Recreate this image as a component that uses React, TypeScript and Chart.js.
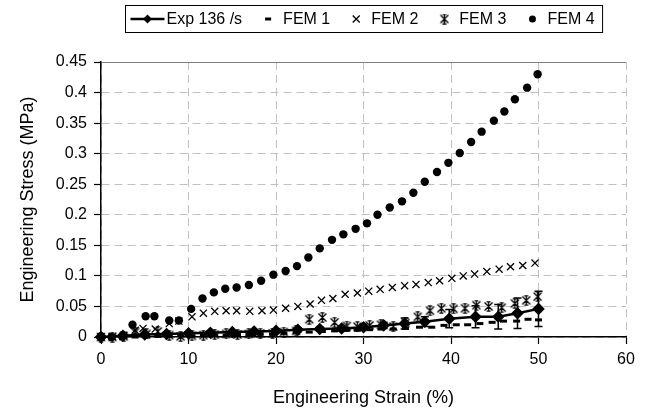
import { useEffect, useRef } from "react";
import { Chart, registerables } from "chart.js";

Chart.register(...registerables);

const xTicks = [0, 10, 20, 30, 40, 50, 60];
const yTicks = [0, 0.05, 0.1, 0.15, 0.2, 0.25, 0.3, 0.35, 0.4, 0.45];

const seriesNames = ["Exp 136 /s", "FEM 1", "FEM 2", "FEM 3", "FEM 4"];

const expX = [0, 2.5, 5, 7.5, 10, 12.5, 15, 17.5, 20, 22.5, 25, 27.5, 30, 32.3, 34.7, 37.0, 39.8, 42.8, 45.4, 47.6, 50];
const expY = [0, 0.002, 0.004, 0.005, 0.006, 0.007, 0.008, 0.009, 0.010, 0.012, 0.013, 0.014, 0.016, 0.019, 0.022, 0.025, 0.030, 0.033, 0.033, 0.039, 0.046];
const expErr = [0, 0.001, 0.001, 0.001, 0.002, 0.002, 0.002, 0.003, 0.003, 0.003, 0.003, 0.004, 0.005, 0.005, 0.009, 0.008, 0.015, 0.018, 0.020, 0.025, 0.029];

const fem1X = [0, 1.3, 2.6, 3.9, 5.2, 6.5, 7.8, 9.1, 10.4, 11.7, 13.0, 14.3, 15.6, 16.9, 18.2, 19.6, 20.9, 22.3, 23.8, 25.3, 26.7, 28.1, 29.3, 30.7, 32.0, 33.4, 34.8, 36.4, 37.8, 39.2, 40.6, 41.9, 43.3, 44.7, 46.0, 47.5, 48.8, 50.0];
const fem1Y = [0, 0, 0, 0, 0, 0.001, 0.001, 0.002, 0.002, 0.003, 0.003, 0.003, 0.004, 0.004, 0.005, 0.005, 0.006, 0.007, 0.008, 0.009, 0.010, 0.011, 0.011, 0.012, 0.013, 0.013, 0.014, 0.016, 0.016, 0.019, 0.020, 0.020, 0.022, 0.024, 0.026, 0.026, 0.029, 0.028];

const fem2X = [0, 1.3, 2.6, 3.9, 4.8, 6.2, 7.8, 8.9, 10.4, 11.7, 13.0, 14.3, 15.5, 17.0, 18.4, 19.7, 21.1, 22.5, 23.9, 25.2, 26.5, 27.9, 29.3, 30.6, 31.9, 33.3, 34.7, 36.0, 37.4, 38.7, 40.1, 41.4, 42.7, 44.1, 45.5, 46.8, 48.2, 49.6];
const fem2Y = [0, 0.001, 0.003, 0.011, 0.014, 0.013, 0.022, 0.026, 0.033, 0.039, 0.042, 0.043, 0.043, 0.042, 0.043, 0.044, 0.047, 0.050, 0.054, 0.060, 0.063, 0.070, 0.072, 0.075, 0.078, 0.081, 0.084, 0.086, 0.089, 0.092, 0.096, 0.100, 0.103, 0.107, 0.111, 0.115, 0.117, 0.121];

const fem3X = [0, 1.3, 2.6, 3.9, 5.2, 6.5, 7.8, 9.1, 10.4, 11.7, 13.0, 14.3, 15.6, 16.9, 18.2, 19.6, 20.9, 22.3, 23.8, 25.3, 26.7, 28.1, 29.3, 30.7, 32.0, 33.4, 34.8, 36.2, 37.6, 38.9, 40.3, 41.6, 42.9, 44.3, 45.8, 47.3, 48.6, 49.9];
const fem3Y = [0, 0, 0.001, 0.008, 0.005, 0.009, 0.003, 0.001, 0.002, 0.003, 0.004, 0.005, 0.004, 0.005, 0.006, 0.006, 0.008, 0.010, 0.029, 0.032, 0.024, 0.018, 0.017, 0.019, 0.020, 0.017, 0.023, 0.033, 0.043, 0.047, 0.046, 0.047, 0.052, 0.050, 0.048, 0.055, 0.060, 0.066];

const fem4X = [0, 1.2, 2.4, 3.6, 5.1, 6.1, 7.8, 8.9, 10.3, 11.6, 12.9, 14.2, 15.5, 16.9, 18.3, 19.7, 21.1, 22.4, 23.7, 25.0, 26.4, 27.7, 29.1, 30.4, 31.6, 33.0, 34.4, 35.7, 37.0, 38.4, 39.7, 41.0, 42.3, 43.5, 44.9, 46.1, 47.3, 48.7, 49.9];
const fem4Y = [0, 0, 0.001, 0.020, 0.034, 0.034, 0.027, 0.027, 0.046, 0.063, 0.073, 0.079, 0.081, 0.085, 0.092, 0.102, 0.108, 0.116, 0.130, 0.145, 0.159, 0.168, 0.177, 0.186, 0.200, 0.212, 0.222, 0.236, 0.254, 0.270, 0.285, 0.301, 0.319, 0.336, 0.354, 0.369, 0.389, 0.408, 0.430];

const FONT = '"Liberation Sans", Arial, sans-serif';

function pts(xs: number[], ys: number[]) {
  return xs.map((x, i) => ({ x, y: ys[i] }));
}

function makeStar(): HTMLCanvasElement {
  const c = document.createElement("canvas");
  c.width = 11;
  c.height = 11;
  const g = c.getContext("2d")!;
  g.strokeStyle = "#000";
  g.lineWidth = 1.3;
  g.beginPath();
  g.moveTo(1.5, 1.5); g.lineTo(9.5, 9.5);
  g.moveTo(9.5, 1.5); g.lineTo(1.5, 9.5);
  g.moveTo(5.5, 0.5); g.lineTo(5.5, 10.5);
  g.moveTo(3.5, 0.8); g.lineTo(7.5, 0.8);
  g.moveTo(3.5, 10.2); g.lineTo(7.5, 10.2);
  g.stroke();
  return c;
}

export default function App() {
  const ref = useRef<HTMLCanvasElement>(null);
  useEffect(() => {
    document.body.style.margin = "0";
    const star = makeStar();

    const errorBars = {
      id: "errorBars",
      afterDatasetsDraw(chart: any) {
        const ctx = chart.ctx;
        const xs = chart.scales.x;
        const ys = chart.scales.y;
        ctx.save();
        ctx.strokeStyle = "#000";
        ctx.lineWidth = 1.5;
        expX.forEach((xv, i) => {
          const e = expErr[i];
          if (e <= 0) return;
          const px = xs.getPixelForValue(xv);
          const top = ys.getPixelForValue(expY[i] + e);
          const bot = ys.getPixelForValue(expY[i] - e);
          ctx.beginPath();
          ctx.moveTo(px, top); ctx.lineTo(px, bot);
          ctx.moveTo(px - 4, top); ctx.lineTo(px + 4, top);
          ctx.moveTo(px - 4, bot); ctx.lineTo(px + 4, bot);
          ctx.stroke();
        });
        ctx.restore();
      },
    };

    const legendBox = {
      id: "legendBox",
      afterDraw(chart: any) {
        const ctx = chart.ctx;
        ctx.save();
        ctx.font = `16px ${FONT}`;
        ctx.fillStyle = "#000";
        ctx.strokeStyle = "#000";
        ctx.textBaseline = "middle";
        const widths = seriesNames.map((n) => ctx.measureText(n).width);
        const layout: { sym: number; text: number }[] = [];
        let cur = 41;
        layout.push({ sym: 5, text: cur });
        cur += widths[0];
        for (let i = 1; i < seriesNames.length; i++) {
          const m = cur + 26;
          const t = m + 15;
          layout.push({ sym: m, text: t });
          cur = t + widths[i];
        }
        const total = cur + 8;
        const ca = chart.chartArea;
        const left = Math.round((ca.left + ca.right) / 2 - total / 2) + 0.5;
        const top = 5.5;
        const h = 27;
        const cy = top + h / 2;
        ctx.lineWidth = 1;
        ctx.strokeRect(left, top, total, h);
        layout.forEach((L, i) => {
          const sx = left + L.sym;
          if (i === 0) {
            ctx.lineWidth = 2.5;
            ctx.beginPath();
            ctx.moveTo(sx, cy); ctx.lineTo(sx + 34, cy);
            ctx.stroke();
            ctx.beginPath();
            ctx.moveTo(sx + 17, cy - 4.5);
            ctx.lineTo(sx + 21.5, cy);
            ctx.lineTo(sx + 17, cy + 4.5);
            ctx.lineTo(sx + 12.5, cy);
            ctx.closePath();
            ctx.fill();
          } else if (i === 1) {
            ctx.fillRect(sx - 3, cy - 1.5, 6, 3);
          } else if (i === 2) {
            ctx.lineWidth = 1.3;
            ctx.beginPath();
            ctx.moveTo(sx - 3.5, cy - 3.5); ctx.lineTo(sx + 3.5, cy + 3.5);
            ctx.moveTo(sx + 3.5, cy - 3.5); ctx.lineTo(sx - 3.5, cy + 3.5);
            ctx.stroke();
          } else if (i === 3) {
            ctx.drawImage(star, sx - 5.5, cy - 5.5);
          } else {
            ctx.beginPath();
            ctx.arc(sx, cy, 3.5, 0, Math.PI * 2);
            ctx.fill();
          }
          ctx.fillText(seriesNames[i], left + L.text, cy + 1);
        });
        ctx.restore();
      },
    };

    const chart = new Chart(ref.current!, {
      type: "scatter",
      data: {
        datasets: [
          {
            label: seriesNames[0],
            data: pts(expX, expY),
            showLine: true,
            borderColor: "#000",
            borderWidth: 2.5,
            pointStyle: "rectRot",
            pointRadius: 4.5,
            pointBackgroundColor: "#000",
            pointBorderColor: "#000",
            clip: false as any,
          },
          {
            label: seriesNames[1],
            data: pts(fem1X, fem1Y),
            showLine: false,
            pointStyle: "line",
            pointRadius: 3.5,
            pointBorderWidth: 3,
            pointBorderColor: "#000",
            borderColor: "#000",
            clip: false as any,
          },
          {
            label: seriesNames[2],
            data: pts(fem2X, fem2Y),
            showLine: false,
            pointStyle: "crossRot",
            pointRadius: 5,
            pointBorderWidth: 1.3,
            pointBorderColor: "#000",
            borderColor: "#000",
            clip: false as any,
          },
          {
            label: seriesNames[3],
            data: pts(fem3X, fem3Y),
            showLine: false,
            pointStyle: star as any,
            pointRadius: 5,
            borderColor: "#000",
            clip: false as any,
          },
          {
            label: seriesNames[4],
            data: pts(fem4X, fem4Y),
            showLine: false,
            pointStyle: "circle",
            pointRadius: 4.2,
            pointBackgroundColor: "#000",
            pointBorderColor: "#000",
            pointBorderWidth: 0,
            clip: false as any,
          },
        ],
      },
      options: {
        animation: false,
        responsive: true,
        maintainAspectRatio: false,
        layout: { padding: { top: 62, right: 26, left: 0, bottom: 0 } },
        plugins: {
          legend: { display: false },
          tooltip: { enabled: false },
        },
        scales: {
          x: {
            type: "linear",
            min: 0,
            max: 60,
            afterBuildTicks: (s: any) => {
              s.ticks = xTicks.map((v) => ({ value: v }));
            },
            afterFit: (s: any) => {
              s.height = 78;
            },
            ticks: {
              font: { family: FONT, size: 16 },
              color: "#000",
              padding: 6,
              callback: (v: any) => String(v),
            },
            grid: {
              color: "#c0c0c0",
              lineWidth: 1,
              tickColor: "#000",
              tickLength: 7,
              tickWidth: 1.2,
            },
            border: {
              color: "#000",
              width: 1.5,
              dash: [8, 5],
            } as any,
            title: {
              display: true,
              text: "Engineering Strain (%)",
              font: { family: FONT, size: 18 },
              color: "#000",
              padding: { top: 0, bottom: 6 },
            },
          },
          y: {
            type: "linear",
            min: 0,
            max: 0.45,
            afterBuildTicks: (s: any) => {
              s.ticks = yTicks.map((v) => ({ value: v }));
            },
            afterFit: (s: any) => {
              s.width = 101;
            },
            ticks: {
              font: { family: FONT, size: 16 },
              color: "#000",
              padding: 7,
              callback: (v: any) => String(Math.round(Number(v) * 100) / 100),
            },
            grid: {
              color: (c: any) => (c.tick && Math.abs(c.tick.value - 0.45) < 1e-9 ? "#808080" : "#c0c0c0"),
              lineWidth: 1,
              tickColor: "#000",
              tickLength: 7,
              tickWidth: 1.2,
            },
            border: {
              color: "#000",
              width: 1.5,
              dash: (c: any) => (c.tick && Math.abs(c.tick.value - 0.45) < 1e-9 ? [] : [8, 5]),
            } as any,
            title: {
              display: true,
              text: "Engineering Stress (MPa)",
              font: { family: FONT, size: 18 },
              color: "#000",
              padding: { top: 17, bottom: 0 },
            },
          },
        },
      },
      plugins: [errorBars, legendBox],
    });
    return () => chart.destroy();
  }, []);
  return (
    <div style={{ width: 652, height: 415, position: "relative" }}>
      <canvas ref={ref} />
    </div>
  );
}
